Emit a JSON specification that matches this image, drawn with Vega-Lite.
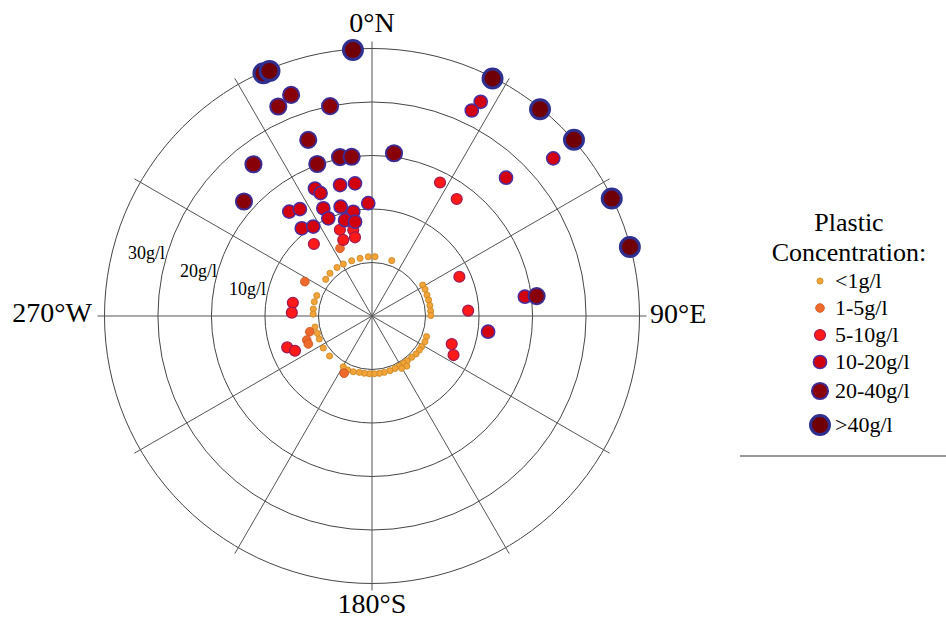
{
  "$schema": "https://vega.github.io/schema/vega-lite/v6.json",
  "width": 946,
  "height": 621,
  "padding": 0,
  "autosize": {"type": "none"},
  "background": "white",
  "config": {
    "view": {"stroke": null},
    "font": "Liberation Serif",
    "legend": {
      "titleFont": "Liberation Serif",
      "titleFontSize": 26,
      "titleFontWeight": "normal",
      "titleColor": "black",
      "titleAnchor": "middle",
      "titleAlign": "center",
      "titleLineHeight": 30,
      "titlePadding": 4,
      "labelFont": "Liberation Serif",
      "labelFontSize": 22,
      "labelColor": "black",
      "rowPadding": 5,
      "symbolOffset": 20,
      "labelOffset": 4,
      "padding": 0
    }
  },
  "layer": [
    {
      "data": {"values": [{"ring": 1}, {"ring": 2}, {"ring": 3}, {"ring": 4}, {"ring": 5}]},
      "mark": {"type": "arc", "filled": false, "stroke": "#454545", "strokeWidth": 1, "theta": 0, "theta2": 6.2832},
      "encoding": {
        "x": {"datum": 0, "type": "quantitative", "scale": {"domain": [-6.9533, 10.729], "nice": false, "zero": false}, "axis": null},
        "y": {"datum": 0, "type": "quantitative", "scale": {"domain": [-5.7009, 5.9065], "nice": false, "zero": false}, "axis": null},
        "radius": {"field": "ring", "type": "quantitative", "stack": null, "scale": {"type": "linear", "domain": [0, 5], "range": [0, 267.5], "zero": true}, "legend": null}
      }
    },
    {
      "data": {"values": [{"angle": 0}, {"angle": 30}, {"angle": 60}, {"angle": 90}, {"angle": 120}, {"angle": 150}]},
      "transform": [
        {"calculate": "5.13*sin(datum.angle*PI/180)", "as": "xe"},
        {"calculate": "5.13*cos(datum.angle*PI/180)", "as": "ye"},
        {"calculate": "-datum.xe", "as": "xs"},
        {"calculate": "-datum.ye", "as": "ys"}
      ],
      "mark": {"type": "rule", "stroke": "#555555", "strokeWidth": 1},
      "encoding": {
        "x": {"field": "xs", "type": "quantitative", "scale": {"domain": [-6.9533, 10.729], "nice": false, "zero": false}, "axis": null},
        "y": {"field": "ys", "type": "quantitative", "scale": {"domain": [-5.7009, 5.9065], "nice": false, "zero": false}, "axis": null},
        "x2": {"field": "xe"},
        "y2": {"field": "ye"}
      }
    },
    {
      "data": {"values": [
        {"label": "10g/l", "deg": 283.8, "r": 2.04},
        {"label": "20g/l", "deg": 285.8, "r": 3.01},
        {"label": "30g/l", "deg": 286.7, "r": 4.04}
      ]},
      "transform": [
        {"calculate": "datum.r*sin(datum.deg*PI/180)", "as": "px"},
        {"calculate": "datum.r*cos(datum.deg*PI/180)", "as": "py"}
      ],
      "mark": {"type": "text", "align": "right", "baseline": "middle", "font": "Liberation Serif", "fontSize": 18, "color": "black"},
      "encoding": {
        "x": {"field": "px", "type": "quantitative", "scale": {"domain": [-6.9533, 10.729], "nice": false, "zero": false}, "axis": null},
        "y": {"field": "py", "type": "quantitative", "scale": {"domain": [-5.7009, 5.9065], "nice": false, "zero": false}, "axis": null},
        "text": {"field": "label"}
      }
    },
    {
      "data": {"values": [
        {"label": "0°N", "deg": 0, "r": 5.314},
        {"label": "180°S", "deg": 180, "r": 5.557}
      ]},
      "transform": [
        {"calculate": "datum.r*sin(datum.deg*PI/180)", "as": "px"},
        {"calculate": "datum.r*cos(datum.deg*PI/180)", "as": "py"}
      ],
      "mark": {"type": "text", "align": "center", "baseline": "alphabetic", "font": "Liberation Serif", "fontSize": 28, "color": "black"},
      "encoding": {
        "x": {"field": "px", "type": "quantitative", "scale": {"domain": [-6.9533, 10.729], "nice": false, "zero": false}, "axis": null},
        "y": {"field": "py", "type": "quantitative", "scale": {"domain": [-5.7009, 5.9065], "nice": false, "zero": false}, "axis": null},
        "text": {"field": "label"}
      }
    },
    {
      "data": {"values": [{"label": "90°E", "deg": 91.44, "r": 5.198}]},
      "transform": [
        {"calculate": "datum.r*sin(datum.deg*PI/180)", "as": "px"},
        {"calculate": "datum.r*cos(datum.deg*PI/180)", "as": "py"}
      ],
      "mark": {"type": "text", "align": "left", "baseline": "alphabetic", "font": "Liberation Serif", "fontSize": 28, "color": "black"},
      "encoding": {
        "x": {"field": "px", "type": "quantitative", "scale": {"domain": [-6.9533, 10.729], "nice": false, "zero": false}, "axis": null},
        "y": {"field": "py", "type": "quantitative", "scale": {"domain": [-5.7009, 5.9065], "nice": false, "zero": false}, "axis": null},
        "text": {"field": "label"}
      }
    },
    {
      "data": {"values": [{"label": "270°W", "deg": 268.77, "r": 5.235}]},
      "transform": [
        {"calculate": "datum.r*sin(datum.deg*PI/180)", "as": "px"},
        {"calculate": "datum.r*cos(datum.deg*PI/180)", "as": "py"}
      ],
      "mark": {"type": "text", "align": "right", "baseline": "alphabetic", "font": "Liberation Serif", "fontSize": 28, "color": "black"},
      "encoding": {
        "x": {"field": "px", "type": "quantitative", "scale": {"domain": [-6.9533, 10.729], "nice": false, "zero": false}, "axis": null},
        "y": {"field": "py", "type": "quantitative", "scale": {"domain": [-5.7009, 5.9065], "nice": false, "zero": false}, "axis": null},
        "text": {"field": "label"}
      }
    },
    {
      "data": {"values": [
        {"c": "<1g/l", "deg": 308.4, "r": 1.104}, {"c": "<1g/l", "deg": 315.5, "r": 1.12}, {"c": "<1g/l", "deg": 324.2, "r": 1.118},
        {"c": "<1g/l", "deg": 331.1, "r": 1.11}, {"c": "<1g/l", "deg": 339.8, "r": 1.10}, {"c": "<1g/l", "deg": 348.3, "r": 1.10},
        {"c": "<1g/l", "deg": 356.4, "r": 1.11}, {"c": "<1g/l", "deg": 2.9, "r": 1.11}, {"c": "<1g/l", "deg": 19.6, "r": 1.10},
        {"c": "<1g/l", "deg": 290.3, "r": 1.10}, {"c": "<1g/l", "deg": 283.9, "r": 1.11}, {"c": "<1g/l", "deg": 276.8, "r": 1.105},
        {"c": "<1g/l", "deg": 271.9, "r": 1.10}, {"c": "<1g/l", "deg": 259.1, "r": 1.085}, {"c": "<1g/l", "deg": 252.3, "r": 1.07},
        {"c": "<1g/l", "deg": 246.4, "r": 1.075}, {"c": "<1g/l", "deg": 236.7, "r": 1.09}, {"c": "<1g/l", "deg": 226.7, "r": 1.09},
        {"c": "<1g/l", "deg": 58.6, "r": 1.11}, {"c": "<1g/l", "deg": 63.3, "r": 1.11}, {"c": "<1g/l", "deg": 69.1, "r": 1.10},
        {"c": "<1g/l", "deg": 74.2, "r": 1.10}, {"c": "<1g/l", "deg": 79.7, "r": 1.10}, {"c": "<1g/l", "deg": 85.1, "r": 1.10},
        {"c": "<1g/l", "deg": 89.5, "r": 1.10}, {"c": "<1g/l", "deg": 110.7, "r": 1.09}, {"c": "<1g/l", "deg": 115.9, "r": 1.10},
        {"c": "<1g/l", "deg": 121.7, "r": 1.09}, {"c": "<1g/l", "deg": 125.7, "r": 1.09}, {"c": "<1g/l", "deg": 130.8, "r": 1.086},
        {"c": "<1g/l", "deg": 136.1, "r": 1.07}, {"c": "<1g/l", "deg": 141.7, "r": 1.065}, {"c": "<1g/l", "deg": 146.5, "r": 1.06},
        {"c": "<1g/l", "deg": 151.4, "r": 1.065}, {"c": "<1g/l", "deg": 156.3, "r": 1.07}, {"c": "<1g/l", "deg": 161.8, "r": 1.076},
        {"c": "<1g/l", "deg": 167.7, "r": 1.077}, {"c": "<1g/l", "deg": 172.7, "r": 1.08}, {"c": "<1g/l", "deg": 177.7, "r": 1.08},
        {"c": "<1g/l", "deg": 182.7, "r": 1.08}, {"c": "<1g/l", "deg": 187.7, "r": 1.08}, {"c": "<1g/l", "deg": 192.7, "r": 1.08},
        {"c": "<1g/l", "deg": 198.6, "r": 1.10}, {"c": "<1g/l", "deg": 204.2, "r": 1.107}, {"c": "<1g/l", "deg": 209.5, "r": 1.09},
        {"c": "<1g/l", "deg": 145.2, "r": 1.14}, {"c": "<1g/l", "deg": 150.4, "r": 1.125},
        {"c": "1-5g/l", "deg": 297.1, "r": 1.41}, {"c": "1-5g/l", "deg": 255.8, "r": 1.20}, {"c": "1-5g/l", "deg": 249.8, "r": 1.30},
        {"c": "1-5g/l", "deg": 246.3, "r": 1.30}, {"c": "1-5g/l", "deg": 206.0, "r": 1.19}, {"c": "1-5g/l", "deg": 334.7, "r": 1.40},
        {"c": "5-10g/l", "deg": 279.5, "r": 1.50}, {"c": "5-10g/l", "deg": 272.4, "r": 1.50}, {"c": "5-10g/l", "deg": 249.7, "r": 1.69},
        {"c": "5-10g/l", "deg": 245.7, "r": 1.58}, {"c": "5-10g/l", "deg": 65.8, "r": 1.79}, {"c": "5-10g/l", "deg": 86.8, "r": 1.80},
        {"c": "5-10g/l", "deg": 109.4, "r": 1.58}, {"c": "5-10g/l", "deg": 115.6, "r": 1.69}, {"c": "5-10g/l", "deg": 27.0, "r": 2.80},
        {"c": "5-10g/l", "deg": 35.9, "r": 2.70}, {"c": "5-10g/l", "deg": 339.6, "r": 1.72}, {"c": "5-10g/l", "deg": 347.7, "r": 1.645},
        {"c": "5-10g/l", "deg": 339.3, "r": 1.52}, {"c": "5-10g/l", "deg": 347.8, "r": 1.505}, {"c": "5-10g/l", "deg": 321.1, "r": 1.73},
        {"c": "10-20g/l", "deg": 344.0, "r": 2.125}, {"c": "10-20g/l", "deg": 349.8, "r": 1.98}, {"c": "10-20g/l", "deg": 344.3, "r": 1.86},
        {"c": "10-20g/l", "deg": 349.8, "r": 1.79}, {"c": "10-20g/l", "deg": 335.7, "r": 2.21}, {"c": "10-20g/l", "deg": 335.9, "r": 2.00},
        {"c": "10-20g/l", "deg": 321.3, "r": 2.10}, {"c": "10-20g/l", "deg": 326.7, "r": 2.00}, {"c": "10-20g/l", "deg": 358.1, "r": 2.11},
        {"c": "10-20g/l", "deg": 346.3, "r": 2.52}, {"c": "10-20g/l", "deg": 352.7, "r": 2.50}, {"c": "10-20g/l", "deg": 335.9, "r": 2.61},
        {"c": "10-20g/l", "deg": 337.3, "r": 2.49}, {"c": "10-20g/l", "deg": 321.6, "r": 2.49}, {"c": "10-20g/l", "deg": 326.0, "r": 2.41},
        {"c": "10-20g/l", "deg": 97.7, "r": 2.19}, {"c": "10-20g/l", "deg": 82.8, "r": 2.88}, {"c": "10-20g/l", "deg": 26.9, "r": 4.49},
        {"c": "10-20g/l", "deg": 25.9, "r": 4.27}, {"c": "10-20g/l", "deg": 48.98, "r": 4.49}, {"c": "10-20g/l", "deg": 44.1, "r": 3.60},
        {"c": "20-40g/l", "deg": 339.9, "r": 4.40}, {"c": "20-40g/l", "deg": 335.9, "r": 4.29}, {"c": "20-40g/l", "deg": 348.7, "r": 4.00},
        {"c": "20-40g/l", "deg": 340.1, "r": 3.50}, {"c": "20-40g/l", "deg": 322.0, "r": 3.60}, {"c": "20-40g/l", "deg": 311.8, "r": 3.21},
        {"c": "20-40g/l", "deg": 340.2, "r": 3.02}, {"c": "20-40g/l", "deg": 348.6, "r": 3.03}, {"c": "20-40g/l", "deg": 352.7, "r": 3.00},
        {"c": "20-40g/l", "deg": 7.7, "r": 3.07}, {"c": "20-40g/l", "deg": 83.1, "r": 3.10},
        {"c": ">40g/l", "deg": 355.9, "r": 4.985}, {"c": ">40g/l", "deg": 335.9, "r": 4.97}, {"c": ">40g/l", "deg": 337.3, "r": 4.965},
        {"c": ">40g/l", "deg": 26.9, "r": 4.98}, {"c": ">40g/l", "deg": 39.1, "r": 4.98}, {"c": ">40g/l", "deg": 48.9, "r": 5.01},
        {"c": ">40g/l", "deg": 63.9, "r": 4.99}, {"c": ">40g/l", "deg": 75.0, "r": 4.99}
      ]},
      "transform": [
        {"calculate": "datum.r*sin(datum.deg*PI/180)", "as": "px"},
        {"calculate": "datum.r*cos(datum.deg*PI/180)", "as": "py"}
      ],
      "mark": {"type": "point", "shape": "circle", "filled": true, "opacity": 1},
      "encoding": {
        "x": {"field": "px", "type": "quantitative", "scale": {"domain": [-6.9533, 10.729], "nice": false, "zero": false}, "axis": null},
        "y": {"field": "py", "type": "quantitative", "scale": {"domain": [-5.7009, 5.9065], "nice": false, "zero": false}, "axis": null},
        "fill": {"field": "c", "type": "ordinal",
          "scale": {"domain": ["<1g/l", "1-5g/l", "5-10g/l", "10-20g/l", "20-40g/l", ">40g/l"], "range": ["#f2a33a", "#ee6a2c", "#ff1a1a", "#d2000f", "#880008", "#6e0006"]},
          "legend": {"title": ["Plastic", "Concentration:"], "orient": "none", "legendX": 772, "legendY": 210}},
        "stroke": {"field": "c", "type": "ordinal",
          "scale": {"domain": ["<1g/l", "1-5g/l", "5-10g/l", "10-20g/l", "20-40g/l", ">40g/l"], "range": ["#c8861e", "#c8501e", "#a01850", "#4b2fa0", "#3f2a90", "#2f2f8f"]},
          "legend": {"title": ["Plastic", "Concentration:"], "orient": "none", "legendX": 772, "legendY": 210}},
        "size": {"field": "c", "type": "ordinal",
          "scale": {"type": "ordinal", "domain": ["<1g/l", "1-5g/l", "5-10g/l", "10-20g/l", "20-40g/l", ">40g/l"], "range": [38, 76, 120, 175, 260, 360]},
          "legend": {"title": ["Plastic", "Concentration:"], "orient": "none", "legendX": 772, "legendY": 210}},
        "strokeWidth": {"field": "c", "type": "ordinal",
          "scale": {"type": "ordinal", "domain": ["<1g/l", "1-5g/l", "5-10g/l", "10-20g/l", "20-40g/l", ">40g/l"], "range": [0.8, 0.8, 1.2, 1.5, 2, 3]},
          "legend": {"title": ["Plastic", "Concentration:"], "orient": "none", "legendX": 772, "legendY": 210}}
      }
    },
    {
      "data": {"values": [{}]},
      "mark": {"type": "rule", "stroke": "#999999", "strokeWidth": 2},
      "encoding": {
        "x": {"datum": 6.879, "type": "quantitative", "scale": {"domain": [-6.9533, 10.729], "nice": false, "zero": false}, "axis": null},
        "x2": {"datum": 10.729},
        "y": {"datum": -2.617, "type": "quantitative", "scale": {"domain": [-5.7009, 5.9065], "nice": false, "zero": false}, "axis": null}
      }
    }
  ]
}
